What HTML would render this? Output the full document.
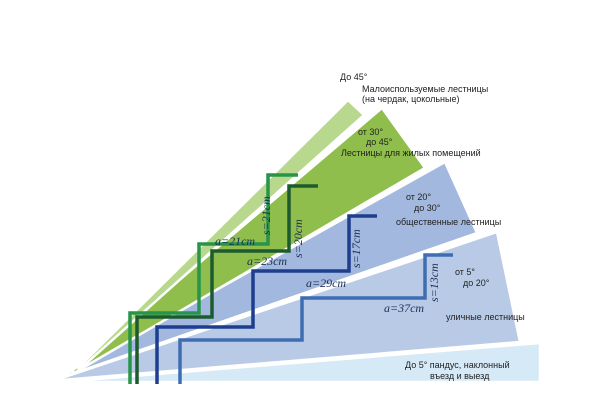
<!DOCTYPE html>
<html><head><meta charset="utf-8"><style>
body{margin:0;background:#fff}
svg{display:block}
.t{font-family:"Liberation Sans",sans-serif;font-size:9px;fill:#222}
.m{font-family:"Liberation Serif",serif;font-style:italic;font-size:12px;fill:#1d2f55}
</style></head><body>
<svg width="600" height="400" viewBox="0 0 600 400" xmlns="http://www.w3.org/2000/svg">
<g stroke="#fff" stroke-width="2.5" stroke-linejoin="round">
<polygon points="60,382 540,343 540,382 60,382" fill="#d6e9f6"/>
<polygon points="62,378 497,232 520,342 62,380" fill="#b9cae6"/>
<polygon points="66,374 445,162 477,233 66,376" fill="#a3b8de"/>
<polygon points="72,371 382,108 425,168 74,373" fill="#8fbe4c"/>
<polygon points="78,368 348,100 364,115 80,369" fill="#b8d88e"/>
</g>
<g fill="none" stroke-width="3.5">
<polyline points="180,384 180,340 302,340 302,298 425,298 425,255 453,255" stroke="#3f6db2"/>
<polyline points="157,384 157,327 253,327 253,271 349,271 349,216 377,216" stroke="#1d3e8e"/>
<polyline points="130,384 130,313 199,313 199,244 268,244 268,175 298,175" stroke="#27944a"/>
<polyline points="137,384 137,317 212,317 212,251 289,251 289,186 318,186" stroke="#1d5a2e"/>
</g>
<text class="m" x="215" y="245">a=21cm</text>
<text class="m" x="247" y="265">a=23cm</text>
<text class="m" x="306" y="287">a=29cm</text>
<text class="m" x="384" y="312">a=37cm</text>
<text class="m" transform="translate(270,235) rotate(-90)">s=21cm</text>
<text class="m" transform="translate(302,258) rotate(-90)">s=20cm</text>
<text class="m" transform="translate(360,268) rotate(-90)">s=17cm</text>
<text class="m" transform="translate(438,302) rotate(-90)">s=13cm</text>
<text class="t" x="340" y="80">До 45°</text>
<text class="t" x="362" y="92">Малоиспользуемые лестницы</text>
<text class="t" x="362" y="102">(на чердак, цокольные)</text>
<text class="t" x="358" y="135">от 30°</text>
<text class="t" x="366" y="145">до 45°</text>
<text class="t" x="341" y="156">Лестницы для жилых помещений</text>
<text class="t" x="406" y="200">от 20°</text>
<text class="t" x="414" y="211">до 30°</text>
<text class="t" x="396" y="225">общественные лестницы</text>
<text class="t" x="455" y="275">от 5°</text>
<text class="t" x="463" y="286">до 20°</text>
<text class="t" x="446" y="320">уличные лестницы</text>
<text class="t" x="405" y="368">До 5° пандус, наклонный</text>
<text class="t" x="430" y="379">въезд и выезд</text>
</svg>
</body></html>
